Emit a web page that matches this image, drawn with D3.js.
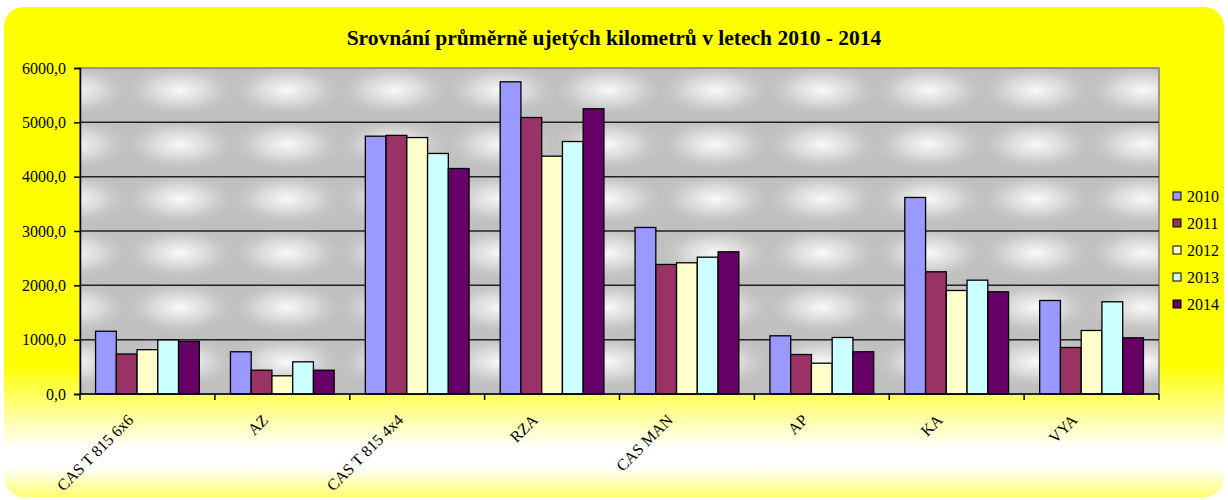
<!DOCTYPE html>
<html>
<head>
<meta charset="utf-8">
<script src="https://cdn.jsdelivr.net/npm/d3@7"></script>
<style>
  body { margin: 0; background: #fff; }
  svg, svg text { font-family: "Liberation Serif", "Times New Roman", Times, serif; }
</style>
</head>
<body>
<svg id="chart" width="1228" height="500"></svg>
<script>
const title = "Srovnání průměrně ujetých kilometrů v letech 2010 - 2014";
const categories = ["CAS T 815 6x6", "AZ", "CAS T 815 4x4", "RZA", "CAS MAN", "AP", "KA", "VYA"];
const years = ["2010", "2011", "2012", "2013", "2014"];
const v2010 = [1155, 777, 4745, 5746, 3065, 1071, 3617, 1721];
const v2011 = [736, 438, 4760, 5089, 2384, 727, 2249, 856];
const v2012 = [816, 335, 4720, 4377, 2415, 567, 1905, 1169];
const v2013 = [994, 592, 4427, 4647, 2518, 1040, 2095, 1697];
const v2014 = [970, 438, 4150, 5249, 2617, 777, 1881, 1034];
const yTicks = [0, 1000, 2000, 3000, 4000, 5000, 6000];

const seriesValues = [v2010, v2011, v2012, v2013, v2014];
const colors = ["#9999ff", "#993366", "#ffffcc", "#ccffff", "#660066"];

const width = 1228, height = 500;
const margin = { top: 68, right: 69, bottom: 106, left: 80 };
const serif = "Liberation Serif, Times New Roman, serif";

const svg = d3.select("#chart").attr("font-family", serif);
const defs = svg.append("defs");

// chart area background: yellow fading to white near the bottom
const bg = defs.append("linearGradient")
  .attr("id", "bgGrad").attr("x1", 0).attr("y1", 0).attr("x2", 0).attr("y2", 1);
[[0, "#ffff00"], [0.73, "#ffff00"], [0.9, "#ffffff"], [0.94, "#ffffff"], [1, "#ffff70"]]
  .forEach(([o, c]) => bg.append("stop").attr("offset", o).attr("stop-color", c));

// plot area texture
const glow = defs.append("radialGradient").attr("id", "glow");
[[0, "#fafafa", 1], [0.5, "#e0e0e0", 0.75], [1, "#c0c0c0", 0]]
  .forEach(([o, c, op]) => glow.append("stop").attr("offset", o).attr("stop-color", c).attr("stop-opacity", op));

const tileW = 107, tileH = 54.33;
const pat = defs.append("pattern")
  .attr("id", "tex")
  .attr("patternUnits", "userSpaceOnUse")
  .attr("x", 126.5).attr("y", 63)
  .attr("width", tileW).attr("height", tileH);
pat.append("rect").attr("width", tileW).attr("height", tileH).attr("fill", "#c0c0c0");
pat.append("ellipse")
  .attr("cx", tileW / 2).attr("cy", tileH / 2)
  .attr("rx", tileW * 0.55).attr("ry", tileH * 0.5)
  .attr("fill", "url(#glow)");

svg.append("rect")
  .attr("x", 4).attr("y", 7)
  .attr("width", width - 8).attr("height", height - 10)
  .attr("rx", 20).attr("ry", 20)
  .attr("fill", "url(#bgGrad)");

// scales
const x = d3.scaleBand()
  .domain(categories)
  .range([margin.left, width - margin.right]);

const xs = d3.scaleBand()
  .domain(years)
  .range([0, x.bandwidth()])
  .paddingOuter(0.75);

const y = d3.scaleLinear()
  .domain([0, 6000])
  .range([height - margin.bottom, margin.top]);

const color = d3.scaleOrdinal().domain(years).range(colors);

const fmt = d3.formatLocale({ decimal: ",", thousands: "", grouping: [3], currency: ["", ""] }).format(".1f");

// plot area
svg.append("rect")
  .attr("x", x.range()[0]).attr("y", y(6000))
  .attr("width", x.range()[1] - x.range()[0])
  .attr("height", y(0) - y(6000))
  .attr("fill", "url(#tex)")
  .attr("stroke", "#808080")
  .attr("stroke-width", 1.5);

// gridlines
svg.append("g")
  .selectAll("line")
  .data(yTicks.filter((d) => d > 0 && d < 6000))
  .join("line")
  .attr("x1", x.range()[0]).attr("x2", x.range()[1])
  .attr("y1", (d) => y(d)).attr("y2", (d) => y(d))
  .attr("stroke", "#222")
  .attr("stroke-width", 1.5);

// bars
const data = categories.map((c, i) => ({
  cat: c,
  vals: years.map((yr, j) => ({ year: yr, value: seriesValues[j][i] })),
}));

svg.append("g")
  .selectAll("g")
  .data(data)
  .join("g")
  .attr("transform", (d) => "translate(" + x(d.cat) + ",0)")
  .selectAll("rect")
  .data((d) => d.vals)
  .join("rect")
  .attr("x", (d) => xs(d.year))
  .attr("y", (d) => y(d.value))
  .attr("width", xs.bandwidth())
  .attr("height", (d) => y(0) - y(d.value))
  .attr("fill", (d) => color(d.year))
  .attr("stroke", "#000")
  .attr("stroke-width", 1.3);

// axes
const gY = svg.append("g")
  .attr("transform", "translate(" + margin.left + ",0)")
  .call(d3.axisLeft(y).tickValues(yTicks).tickSize(6).tickPadding(8).tickFormat(fmt))
  .attr("font-family", serif)
  .attr("font-size", 16);

gY.select(".domain").attr("stroke", "#000").attr("stroke-width", 1.5);
gY.selectAll(".tick line").attr("stroke", "#000").attr("stroke-width", 1.5);
gY.selectAll("text").attr("fill", "#000");

const gX = svg.append("g")
  .attr("transform", "translate(0," + y(0) + ")")
  .attr("font-family", serif);

gX.append("line")
  .attr("x1", x.range()[0]).attr("x2", x.range()[1])
  .attr("stroke", "#000").attr("stroke-width", 1.5);

gX.selectAll(".tk")
  .data(categories.concat([null]))
  .join("line")
  .attr("class", "tk")
  .attr("x1", (d) => (d ? x(d) : x.range()[1]))
  .attr("x2", (d) => (d ? x(d) : x.range()[1]))
  .attr("y1", 0).attr("y2", 6)
  .attr("stroke", "#000").attr("stroke-width", 1.5);

gX.selectAll("text")
  .data(categories)
  .join("text")
  .attr("transform", (d) => "translate(" + (x(d) + x.bandwidth() / 2 - 17) + ",23) rotate(-45)")
  .attr("text-anchor", "end")
  .attr("dy", "0.35em")
  .attr("font-size", 16)
  .text((d) => d);

// title
svg.append("text")
  .attr("x", 614).attr("y", 45)
  .attr("text-anchor", "middle")
  .attr("font-size", 21.5)
  .attr("font-weight", "bold")
  .text(title);

// legend
const legend = svg.append("g")
  .attr("transform", "translate(1173,196)")
  .selectAll("g")
  .data(years)
  .join("g")
  .attr("transform", (d, i) => "translate(0," + i * 27 + ")");

legend.append("rect")
  .attr("x", 0).attr("y", -4)
  .attr("width", 8).attr("height", 8)
  .attr("fill", (d) => color(d))
  .attr("stroke", "#000")
  .attr("stroke-width", 1);

legend.append("text")
  .attr("x", 14)
  .attr("dy", "0.35em")
  .attr("font-size", 16)
  .text((d) => d);
</script>
</body>
</html>
